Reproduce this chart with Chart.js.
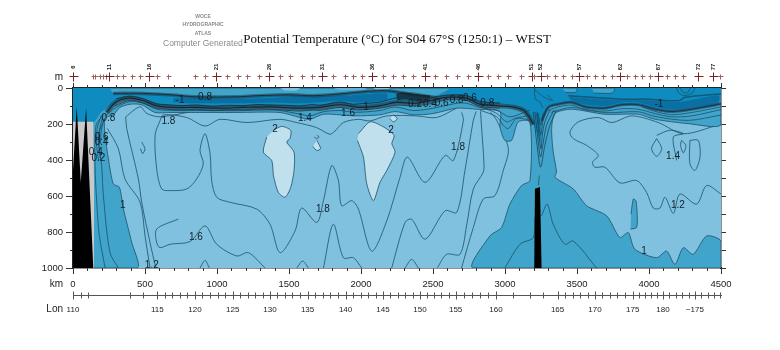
<!DOCTYPE html>
<html>
<head>
<meta charset="utf-8">
<title>Potential Temperature S04</title>
<script src="https://cdn.jsdelivr.net/npm/chart.js@4"></script>
<style>
  body { margin: 0; background: #fff; }
  canvas { display: block; }
</style>
</head>
<body>
<canvas id="chart" width="780" height="350"></canvas>
<script>
// stations along the section, km
const stationKm = [0, 142, 153, 188, 211, 229, 253, 304, 350, 408, 466, 530, 586, 662, 848, 917, 993, 1068, 1144, 1211, 1292, 1362, 1438, 1507, 1588, 1658, 1732, 1808, 1889, 1947, 2005, 2079, 2156, 2225, 2294, 2363, 2444, 2514, 2590, 2664, 2745, 2814, 2884, 2953, 3023, 3108, 3185, 3203, 3247, 3289, 3347, 3405, 3463, 3516, 3571, 3625, 3683, 3740, 3798, 3845, 3903, 3949, 4007, 4065, 4123, 4180, 4238, 4342, 4447, 4490];
const stationLabelKm = [0, 253, 530, 993, 1362, 1732, 2079, 2444, 2814, 3185, 3247, 3516, 3798, 4065, 4342, 4447];
const stationLabels = ['6', '11', '16', '21', '26', '31', '36', '41', '46', '51', '52', '57', '62', '67', '72', '77'];

// longitude axis
const lonLabelKm = [0, 586, 847, 1109, 1368, 1629, 1893, 2153, 2410, 2657, 2937, 3365, 3625, 3887, 4097, 4319];
const lonLabels = ['110', '115', '120', '125', '130', '135', '140', '145', '150', '155', '160', '165', '170', '175', '180', '\u2212175'];
const lonTickKm = [53, 107, 396, 489, 638, 690, 742, 795, 899, 952, 1004, 1056, 1161, 1213, 1265, 1317, 1420, 1472, 1524, 1577, 1682, 1735, 1788, 1840, 1945, 1997, 2049, 2101, 2204, 2255, 2307, 2358, 2459, 2509, 2558, 2608, 2713, 2769, 2825, 2881, 3058, 3173, 3266, 3417, 3469, 3521, 3573, 3677, 3729, 3781, 3833, 3929, 3971, 4013, 4055, 4141, 4186, 4230, 4275, 4363, 4407, 4451, 4495];

// contour labels
const labelText = ['-1', '0.8', '1.8', '0.8', '0.6', '0.4', '0.4', '0.2', '1', '1.2', '1.6', '1.8', '2', '2', '1.6', '1', '1.4', '0.2', '0.4', '0.6', '0.8', '0.6', '0.8', '1.8', '1.4', '1.2', '1', '-1'];
const labelKm = [743, 917, 662, 246, 199, 199, 158, 176, 345, 547, 854, 1736, 1403, 2208, 1910, 2035, 1611, 2375, 2479, 2560, 2664, 2756, 2877, 2674, 4167, 4201, 3965, 4069];
const labelDepth = [67, 49, 186, 166, 272, 300, 356, 393, 654, 983, 827, 671, 229, 235, 140, 106, 168, 90, 93, 86, 67, 56, 84, 330, 380, 654, 905, 89];

// shaded regions, [km, depth]
const oceanRect = [[0, 0], [4500, 0], [4500, 1000], [0, 1000]];
const warmBlobA = [[1392, 235], [1450, 213], [1512, 235], [1507, 281], [1484, 300], [1535, 356], [1535, 458], [1512, 552], [1473, 607], [1426, 580], [1392, 486], [1380, 403], [1322, 356], [1345, 272]];
const warmBlobB = [[1982, 254], [2063, 188], [2156, 216], [2230, 263], [2214, 309], [2237, 356], [2179, 458], [2132, 524], [2086, 626], [2040, 533], [2017, 384], [1975, 291]];
const warmBlobC = [[1693, 291], [1720, 337], [1693, 347], [1665, 324]];
const warmBlobD = [[1693, 263], [1709, 272], [1693, 281], [1674, 272]];
const warmBlobE = [[2224, 149], [2252, 170], [2224, 188], [2201, 170]];
const lensF = [[477, 300], [500, 337], [484, 365], [468, 337]];
const belowOne = [[0, 0], [4500, 0], [4500, 205], [4273, 198], [4042, 174], [3926, 146], [3695, 146], [3463, 118], [3347, 141], [3324, 225], [3335, 356], [3358, 467], [3347, 496], [3474, 561], [3567, 654], [3706, 710], [3798, 831], [3856, 803], [3902, 896], [4053, 943], [4122, 906], [4180, 980], [4238, 887], [4307, 924], [4400, 822], [4500, 850], [4500, 1000], [2780, 1000], [2895, 822], [2976, 775], [3034, 645], [3115, 542], [3173, 514], [3173, 188], [3092, 188], [3046, 291], [2999, 291], [2965, 216], [2965, 131], [2803, 118], [2664, 112], [2502, 142], [2363, 149], [2236, 131], [2131, 149], [1958, 155], [1854, 149], [1738, 146], [1645, 174], [1576, 164], [1437, 136], [1136, 136], [905, 136], [673, 136], [569, 136], [477, 93], [396, 90], [326, 108], [280, 149], [222, 169], [223, 262], [246, 393], [280, 533], [322, 551], [350, 672], [408, 859], [447, 1000], [0, 1000]];
const lensG = [[3872, 784], [3914, 775], [3918, 701], [3909, 626], [3891, 617], [3875, 701]];
const coldLayer = [[0, 0], [250, 0], [280, 27], [673, 33], [859, 49], [1136, 49], [1275, 43], [1507, 38], [1668, 43], [1900, 30], [2178, 15], [2317, 30], [2525, 40], [2640, 0], [4500, 0], [4482, 90], [4296, 118], [4158, 131], [4042, 118], [3926, 93], [3810, 93], [3695, 112], [3556, 105], [3463, 80], [3370, 90], [3301, 108], [3255, 183], [3247, 300], [3197, 202], [3139, 131], [3069, 108], [3000, 93], [2826, 90], [2733, 56], [2595, 52], [2479, 71], [2247, 80], [2131, 99], [1993, 108], [1854, 93], [1715, 108], [1576, 112], [1368, 105], [1183, 108], [859, 108], [581, 99], [488, 71], [396, 56], [326, 67], [280, 90], [199, 132], [141, 190], [0, 190]];
const darkCoreWest = [[697, 55], [859, 55], [1136, 58], [1368, 55], [1553, 45], [1900, 42], [2178, 30], [2178, 65], [1993, 80], [1854, 72], [1576, 85], [1368, 80], [1136, 85], [859, 85], [697, 80]];
const darkCoreEast = [[3440, 50], [3810, 68], [3995, 68], [4204, 78], [4482, 40], [4482, 78], [4296, 108], [4158, 120], [4042, 105], [3926, 80], [3810, 80], [3695, 100], [3556, 92], [3463, 70]];
const surfacePatchA = [[3395, 0], [3500, 0], [3490, 24], [3420, 24]];
const surfacePatchB = [[3600, 0], [3760, 0], [3745, 28], [3620, 28]];
const lightPatchA = [[1440, 0], [1575, 0], [1550, 14], [1470, 14]];
const lightPatchB = [[1810, 0], [2040, 0], [2000, 12], [1850, 12]];
const lightPatchC = [[2085, 0], [2200, 0], [2180, 12], [2110, 12]];

// bathymetry
const greyFloor = [[0, 188], [141, 188], [146, 542], [146, 1000], [0, 1000]];
const blackSpikes = [[0, 458], [26, 104], [54, 523], [91, 113], [141, 1000], [0, 1000]];
const ridge = [[3208, 560], [3243, 550], [3254, 1000], [3203, 1000]];

// thermocline, the dense dark bundle of isotherms
const thermoLower = [[234, 136], [280, 90], [326, 67], [396, 56], [488, 71], [581, 99], [697, 108], [859, 108], [1021, 112], [1183, 108], [1368, 105], [1576, 112], [1715, 108], [1854, 93], [1993, 108], [2131, 99], [2247, 80], [2363, 85], [2479, 71], [2595, 52], [2733, 56], [2826, 90], [2965, 99], [3069, 108], [3139, 131], [3197, 202]];
const thermoWiggleA = [[300, 60], [396, 46], [488, 60], [581, 88], [640, 92], [760, 98], [859, 94], [960, 102], [1080, 96], [1183, 98], [1290, 92], [1368, 95], [1480, 96], [1576, 100], [1660, 92], [1715, 96], [1854, 78], [1940, 90], [1993, 88], [2131, 78], [2247, 55], [2363, 60], [2479, 55], [2595, 40], [2733, 42], [2826, 74], [2965, 84]];
const thermoWiggleB = [[290, 100], [396, 68], [488, 84], [581, 112], [640, 116], [760, 122], [859, 118], [960, 126], [1080, 120], [1183, 122], [1290, 116], [1368, 118], [1480, 124], [1576, 128], [1660, 122], [1715, 124], [1854, 108], [1940, 120], [1993, 122], [2131, 112], [2247, 95], [2363, 100], [2479, 88], [2595, 66], [2733, 70], [2826, 102], [2965, 112]];
const thermoLowerEast = [[3255, 183], [3301, 108], [3370, 90], [3463, 80], [3556, 105], [3695, 112], [3810, 93], [3926, 93], [4042, 118], [4158, 131], [4296, 118], [4500, 88]];
const thermoUpper = [[280, 30], [488, 30], [673, 38], [859, 49], [1136, 49], [1275, 43], [1507, 38], [1668, 43], [1900, 30], [2039, 19], [2178, 15], [2317, 30], [2432, 43], [2525, 56]];
const thermoUpperEast = [[3440, 43], [3602, 52], [3810, 62], [3995, 62], [4204, 71], [4250, 52], [4500, 32]];
const blackPatch = [[2247, 50], [2300, 45], [2400, 55], [2479, 60]];
const underA = [[222, 155], [300, 108], [396, 75], [488, 85], [581, 118], [697, 125], [905, 125], [1136, 126], [1368, 122], [1437, 125], [1576, 145], [1645, 155], [1738, 132], [1854, 125], [1958, 135], [2131, 125], [2236, 105], [2363, 125], [2502, 112], [2664, 85], [2733, 85], [2826, 108], [2942, 123], [3034, 160], [3173, 123]];
const underB = [[2826, 104], [2942, 141], [3011, 188], [3069, 169], [3173, 151]];
const underC = [[2826, 123], [2942, 160], [2988, 207], [3023, 225], [3081, 169], [3173, 179]];
const underEastA = [[3301, 125], [3370, 105], [3463, 95], [3556, 122], [3695, 128], [3810, 115], [3926, 118], [4042, 142], [4158, 160], [4296, 155], [4500, 120]];
const underEastB = [[3320, 135], [3463, 108], [3695, 137], [3926, 132], [4042, 158], [4273, 180], [4500, 150]];
const underEastC = [[3950, 105], [4042, 130], [4158, 148], [4296, 136], [4500, 105]];

// ridge trough, nested isotherms
const troughA = [[3196, 132], [3220, 300], [3247, 439], [3277, 318], [3312, 207], [3358, 123]];
const troughB = [[3208, 132], [3231, 300], [3247, 384], [3266, 300], [3289, 207], [3340, 123]];
const troughC = [[3220, 141], [3238, 281], [3250, 337], [3259, 262], [3277, 188], [3312, 123]];
const troughD = [[3224, 132], [3247, 262], [3266, 169], [3289, 113]];
const troughE = [[3231, 141], [3247, 207], [3266, 141]];
const columnEast = [[3205, 0], [3210, 60], [3240, 75], [3262, 110]];

// dense lines along the western slope
const slopeA = [[211, 151], [160, 207], [153, 430], [165, 635], [183, 821], [223, 1000]];
const slopeB = [[222, 169], [176, 262], [199, 430], [211, 598], [257, 915], [315, 1000]];
const slopeC = [[198, 150], [168, 225], [165, 330], [178, 400]];
const slopeD = [[205, 165], [185, 230], [180, 320], [192, 400]];
const slopeE = [[215, 170], [195, 240], [190, 310]];

// isotherm lines
const line12West = [[239, 225], [315, 337], [361, 505], [466, 635], [500, 821], [535, 1000]];
const line14West = [[366, 160], [373, 225], [454, 505], [477, 635], [535, 859], [575, 1000]];
const line16Top = [[1437, 118], [1136, 120], [905, 122], [605, 160], [512, 141], [466, 104], [366, 160]];
const line18 = [[2664, 112], [2525, 164], [2386, 155], [2178, 155], [2062, 183], [1981, 174], [1877, 192], [1819, 239], [1784, 257], [1692, 220], [1553, 192], [1437, 174], [1206, 192], [1021, 174], [917, 211], [789, 164], [627, 149], [604, 183], [570, 262], [581, 449], [616, 561], [674, 570], [790, 561], [859, 505], [905, 421], [882, 347], [917, 254], [952, 365], [963, 514], [998, 607], [1091, 635], [1276, 673], [1368, 757], [1438, 915], [1542, 794], [1588, 667], [1693, 747], [1739, 626], [1797, 431], [1843, 514], [1866, 654], [1936, 626], [1982, 673], [2075, 906], [2179, 738], [2271, 496], [2322, 384], [2445, 524], [2584, 375], [2642, 403], [2711, 179], [2699, 135]];
const line16West = [[732, 728], [581, 784], [581, 859], [605, 887], [674, 868], [813, 853], [917, 766], [998, 868], [1137, 933], [1218, 915], [1334, 1000]];
const bump1 = [[882, 1000], [917, 958], [947, 1000]];
const bump2 = [[1554, 1000], [1595, 961], [1635, 1000]];
const bump3 = [[2306, 1000], [2352, 952], [2399, 1000]];
const line16Mid = [[1739, 1000], [1808, 757], [1878, 943], [1947, 943], [2005, 1000]];
const line16East = [[2213, 1000], [2306, 747], [2352, 729], [2445, 840], [2584, 682], [2665, 691], [2722, 458], [2780, 179], [2800, 130]];
const line14East = [[2530, 1000], [2594, 924], [2687, 924], [2733, 766], [2780, 561], [2849, 468], [2854, 421], [2837, 216], [2830, 130]];
const line12East = [[2698, 1000], [2780, 775], [2849, 617], [2930, 598], [2988, 458], [3023, 337], [2942, 179], [2900, 135]];
const line12Right = [[4482, 205], [4238, 254], [4065, 192], [3880, 155], [3741, 192], [3648, 164], [3509, 188], [3451, 244], [3474, 281], [3567, 319], [3648, 375], [3608, 412], [3624, 440], [3694, 440], [3798, 527], [3914, 514], [3983, 580], [4030, 667], [4076, 667], [4111, 607], [4169, 697], [4215, 589], [4331, 645], [4400, 542], [4500, 589]];
const line08West = [[2999, 1000], [3104, 868], [3196, 831], [3208, 719]];
const line08East = [[3254, 710], [3293, 645], [3335, 757], [3416, 868], [3474, 850], [3636, 1000]];
const stub08 = [[3238, 486], [3232, 540]];
const loop1 = [[4053, 281], [4088, 337], [4053, 380], [4018, 337], [4053, 281]];
const loop2 = [[4226, 291], [4256, 319], [4238, 360], [4219, 319], [4226, 291]];
const loop3 = [[4284, 291], [4342, 291], [4354, 384], [4319, 458], [4284, 421], [4284, 291]];
const hook = [[4053, 263], [4145, 235], [4238, 254], [4169, 272], [4192, 402]];
const topLoopA = [[4190, 0], [4210, 30], [4250, 42], [4300, 28], [4320, 0]];
const topLoopB = [[4215, 0], [4235, 22], [4265, 28], [4290, 0]];
const topLoopC = [[3200, 5], [3270, 50], [3330, 70], [3290, 35]];

const SHALLOW = '#7fc1de';
const WARM = '#c0e0ee';
const MID = '#41a4cb';
const COLD = '#0e8cc0';
const CORE = '#0a70a3';
const LINE = '#1d4f68';

const poly = (pts, color, outline, tension) => ({
  data: pts.map(p => ({ x: p[0], y: p[1] })),
  showLine: true,
  fill: 'shape',
  backgroundColor: color,
  borderColor: outline || color,
  borderWidth: outline ? 0.8 : 0,
  tension: tension === undefined ? 0.25 : tension,
  pointRadius: 0
});
const line = (pts, color, width) => ({
  data: pts.map(p => ({ x: p[0], y: p[1] })),
  showLine: true,
  fill: false,
  borderColor: color || LINE,
  borderWidth: width || 0.8,
  tension: 0.3,
  pointRadius: 0
});

// listed back to front, chart.js paints index 0 last so the list is reversed below
const layers = [
  poly(oceanRect, SHALLOW, null, 0),
  poly(warmBlobA, WARM, LINE),
  poly(warmBlobB, WARM, LINE),
  poly(warmBlobC, WARM, LINE),
  poly(warmBlobD, SHALLOW, LINE),
  poly(warmBlobE, WARM, LINE),
  poly(lensF, SHALLOW, LINE),
  line(line12West), line(line14West), line(line16Top), line(line18), line(line16West),
  line(bump1), line(bump2), line(bump3), line(line16Mid), line(line16East),
  line(line14East), line(line12East), line(line12Right),
  line(loop1), line(loop2), line(loop3), line(hook),
  poly(belowOne, MID, LINE),
  poly(lensG, MID, LINE),
  line(line08West), line(line08East), line(stub08),
  line(slopeA), line(slopeB), line(slopeC), line(slopeD), line(slopeE),
  poly(coldLayer, COLD, null),
  poly(darkCoreWest, CORE, null),
  poly(darkCoreEast, CORE, null),
  poly(surfacePatchA, MID, LINE),
  poly(surfacePatchB, MID, LINE),
  poly(lightPatchA, SHALLOW, null),
  poly(lightPatchB, '#62b3d6', null),
  poly(lightPatchC, SHALLOW, null),
  line(topLoopA), line(topLoopB), line(topLoopC),
  line(underA, '#24495c'), line(underB), line(underC),
  line(underEastA), line(underEastB), line(underEastC),
  line(troughA, '#1b4257'), line(troughB, '#1b4257'), line(troughC, '#1b4257'), line(troughD, '#1b4257'), line(troughE, '#1b4257'),
  line(columnEast),
  line(thermoUpper, 'rgba(35,60,75,0.55)', 3.5),
  line(thermoUpper, '#18303e', 1),
  line(thermoUpperEast, 'rgba(20,65,90,0.7)', 1.5),
  line(blackPatch, 'rgba(20,30,36,0.75)', 7),
  line(thermoLower, 'rgba(35,60,75,0.6)', 5),
  line(thermoWiggleA, '#20343f', 1),
  line(thermoWiggleB, '#2a4555', 1),
  line(thermoLower, '#18262e', 1.2),
  line(thermoLowerEast, 'rgba(30,65,85,0.65)', 3),
  line(thermoLowerEast, '#1a2c38', 0.8),
  poly(greyFloor, '#c9c9c9', null, 0),
  poly(blackSpikes, '#000', null, 0),
  poly(ridge, '#000', null, 0)
];

const sectionDecor = {
  id: 'sectionDecor',
  afterDraw(chart) {
    const ctx = chart.ctx;
    const sx = chart.scales.x;
    const sy = chart.scales.y;
    const top = sy.getPixelForValue(0);
    const bottom = sy.getPixelForValue(1000);
    const left = sx.left;
    ctx.save();

    // minor ticks, every 100 km and 100 m
    ctx.strokeStyle = '#333';
    ctx.lineWidth = 1;
    ctx.beginPath();
    for (let km = 100; km < 4500; km += 100) {
      if (km % 500 === 0) continue;
      const x = Math.round(sx.getPixelForValue(km)) + 0.5;
      ctx.moveTo(x, top); ctx.lineTo(x, top - 3);
      ctx.moveTo(x, bottom); ctx.lineTo(x, bottom + 3);
    }
    for (let m = 100; m < 1000; m += 200) {
      const y = Math.round(sy.getPixelForValue(m)) + 0.5;
      ctx.moveTo(left, y); ctx.lineTo(left - 3, y);
    }
    ctx.stroke();

    // stations
    stationKm.forEach(km => {
      const major = stationLabelKm.includes(km);
      const x = Math.round(sx.getPixelForValue(km)) + 0.5;
      const y = 76.5;
      const r = major ? 4 : 2;
      ctx.strokeStyle = major ? '#7a1f1f' : '#a06060';
      ctx.beginPath();
      ctx.moveTo(x - r, y); ctx.lineTo(x + r + 1, y);
      ctx.moveTo(x, y - r); ctx.lineTo(x, y + r + 1);
      ctx.stroke();
    });
    ctx.fillStyle = '#222';
    ctx.font = 'bold 6px "Liberation Sans"';
    ctx.textAlign = 'center';
    ctx.textBaseline = 'middle';
    stationLabels.forEach((t, i) => {
      ctx.save();
      ctx.translate(sx.getPixelForValue(stationLabelKm[i]), 67);
      ctx.rotate(-Math.PI / 2);
      ctx.fillText(t, 0, 0);
      ctx.restore();
    });

    // longitude axis
    ctx.strokeStyle = '#555';
    ctx.beginPath();
    ctx.moveTo(left, 295.5); ctx.lineTo(sx.right + 1, 295.5);
    lonTickKm.forEach(km => {
      const x = Math.round(sx.getPixelForValue(km)) + 0.5;
      ctx.moveTo(x, 292.5); ctx.lineTo(x, 298.5);
    });
    lonLabelKm.forEach(km => {
      const x = Math.round(sx.getPixelForValue(km)) + 0.5;
      ctx.moveTo(x, 291.5); ctx.lineTo(x, 299.5);
    });
    ctx.stroke();
    ctx.fillStyle = '#222';
    ctx.font = '8px "Liberation Sans"';
    lonLabels.forEach((t, i) => ctx.fillText(t, sx.getPixelForValue(lonLabelKm[i]), 309.5));

    // axis names
    ctx.font = '10px "Liberation Sans"';
    ctx.textAlign = 'right';
    ctx.fillText('m', 63, 77);
    ctx.fillText('km', 63, 284);
    ctx.fillText('Lon', 63, 309);

    // contour labels
    ctx.textAlign = 'center';
    ctx.fillStyle = '#111e28';
    ctx.font = '10px "Liberation Sans"';
    labelText.forEach((t, i) => ctx.fillText(t, sx.getPixelForValue(labelKm[i]), sy.getPixelForValue(labelDepth[i])));

    // atlas mark
    ctx.fillStyle = '#8a8a8a';
    ctx.font = 'bold 5px "Liberation Sans"';
    ctx.fillText('WOCE', 203, 16.5);
    ctx.fillText('HYDROGRAPHIC', 203, 25);
    ctx.fillText('ATLAS', 203, 34);
    ctx.font = '8.5px "Liberation Sans"';
    ctx.textAlign = 'left';
    ctx.fillText('Computer Generated', 163, 43.5);
    ctx.restore();
  }
};

const axisGrid = (len) => ({ drawOnChartArea: false, drawTicks: true, tickLength: len, tickColor: '#333', tickWidth: 1 });
const axisBorder = { display: true, color: '#222', width: 1.5 };
const plainTick = v => String(v);

new Chart(document.querySelector('#chart').getContext('2d'), {
  type: 'scatter',
  data: { datasets: layers.slice().reverse() },
  plugins: [sectionDecor],
  options: {
    responsive: false,
    animation: false,
    events: [],
    layout: { padding: { left: 0, right: 51, top: 0, bottom: 52 } },
    plugins: {
      legend: { display: false },
      tooltip: { enabled: false },
      title: {
        display: true,
        fullSize: false,
        text: 'Potential Temperature (\u00b0C) for S04 67\u00b0S (1250:1) \u2013 WEST',
        color: '#111',
        font: { family: '"Liberation Serif"', size: 13, weight: 'normal', lineHeight: 1 },
        padding: { top: 33, bottom: 36 }
      }
    },
    scales: {
      x: {
        type: 'linear', position: 'bottom', min: 0, max: 4500,
        grid: axisGrid(6), border: axisBorder,
        afterFit: s => { s.height = 30; },
        ticks: { stepSize: 500, padding: 5, maxRotation: 0, color: '#222', callback: plainTick, font: { family: '"Liberation Sans"', size: 9.5 } }
      },
      xTop: {
        type: 'linear', position: 'top', min: 0, max: 4500,
        grid: axisGrid(5), border: axisBorder,
        afterFit: s => { s.height = 6; },
        ticks: { stepSize: 500, display: false }
      },
      y: {
        type: 'linear', position: 'left', reverse: true, min: 0, max: 1000,
        grid: axisGrid(7), border: axisBorder,
        afterFit: s => { s.width = 73; },
        ticks: { stepSize: 200, padding: 3, color: '#222', callback: plainTick, font: { family: '"Liberation Sans"', size: 9.5 } }
      },
      yRight: {
        type: 'linear', position: 'right', reverse: true, min: 0, max: 1000,
        grid: axisGrid(5), border: axisBorder,
        afterFit: s => { s.width = 8; },
        ticks: { stepSize: 100, display: false }
      }
    }
  }
});
</script>
</body>
</html>
